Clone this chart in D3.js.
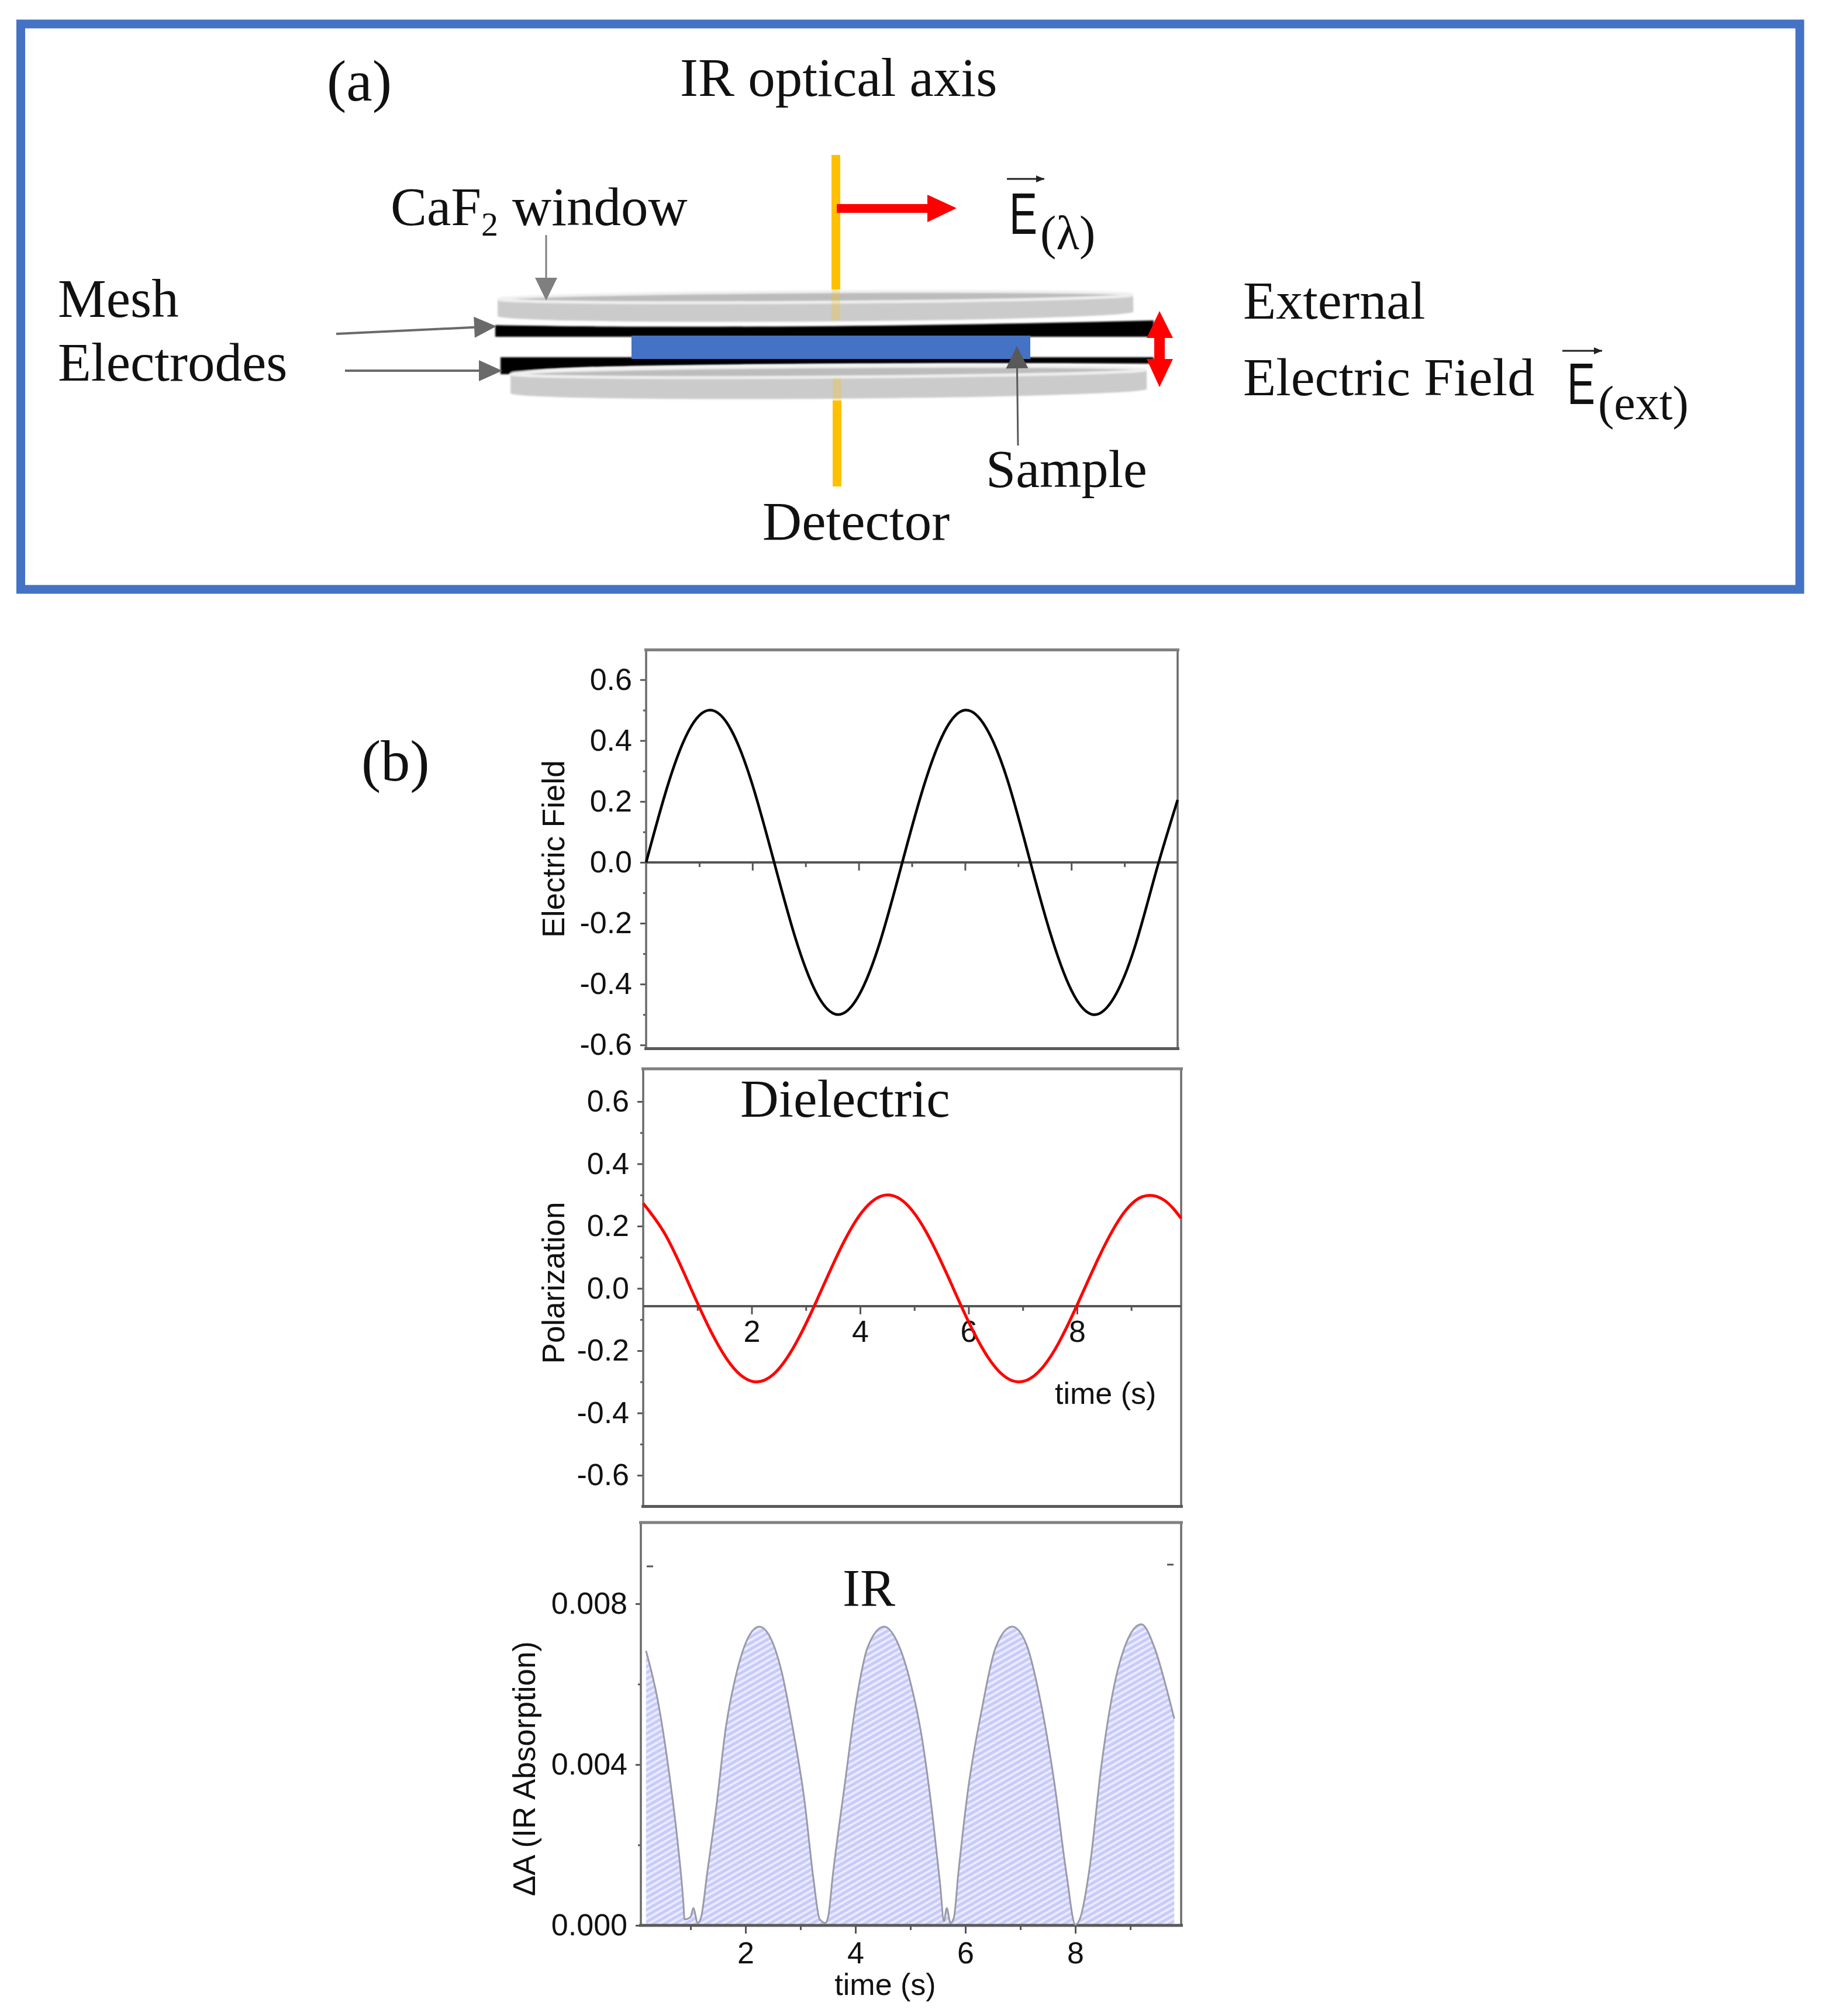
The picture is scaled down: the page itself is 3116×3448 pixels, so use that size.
<!DOCTYPE html>
<html>
<head>
<meta charset="utf-8">
<script src="https://cdn.jsdelivr.net/npm/d3@7"></script>
<style>
html, body { margin: 0; padding: 0; background: #fff; }
svg { display: block; }
text { fill: #111; }
.serif { font-family: "Liberation Serif", serif; }
.sans { font-family: "Liberation Sans", sans-serif; }
</style>
</head>
<body>
<div id="chart"></div>
<script>
// panel 1, electric field
var fieldT = [0, 0.4, 0.8, 1.2, 1.6, 2.0, 2.4, 2.8, 3.2, 3.6, 4.0, 4.4, 4.8, 5.2, 5.6, 6.0, 6.4, 6.8, 7.2, 7.6, 8.0, 8.4, 8.8, 9.2, 9.6, 10];
var fieldV = [0, 0.249, 0.432, 0.5, 0.435, 0.255, 0.006, -0.244, -0.428, -0.5, -0.438, -0.262, -0.013, 0.237, 0.425, 0.5, 0.441, 0.27, 0.02, -0.23, -0.42, -0.5, -0.445, -0.275, -0.027, 0.205];

// panel 2, polarization
var polT = [0, 0.4, 0.8, 1.2, 1.6, 2.0, 2.4, 2.8, 3.2, 3.6, 4.0, 4.4, 4.8, 5.2, 5.6, 6.0, 6.4, 6.8, 7.2, 7.6, 8.0, 8.4, 8.8, 9.2, 9.6, 9.92];
var polV = [0.273, 0.175, 0.031, -0.121, -0.241, -0.298, -0.276, -0.181, -0.039, 0.114, 0.237, 0.297, 0.279, 0.187, 0.046, -0.107, -0.232, -0.296, -0.282, -0.194, -0.054, 0.099, 0.227, 0.294, 0.284, 0.225];

// panel 3, IR absorption
var irT = [0.19, 0.40, 0.62, 0.745, 0.87, 0.89, 1.0, 1.05, 1.13, 1.19, 1.30, 1.47, 1.64, 1.85, 2.06, 2.25, 2.44, 2.65, 2.86, 3.07, 3.24, 3.35, 3.45, 3.50, 3.59, 3.80, 4.01, 4.22, 4.52, 4.78, 4.99, 5.20, 5.41, 5.54, 5.61, 5.66, 5.73, 5.79, 5.87, 6.04, 6.30, 6.55, 6.85, 7.11, 7.36, 7.62, 7.84, 8.0, 8.09, 8.26, 8.47, 8.68, 8.94, 9.20, 9.44, 9.65, 9.80];
var irV = [0.00683, 0.00562, 0.00369, 0.00232, 0.00055, 0.00015, 0.00021, 0.00043, 0.00006, 0.00019, 0.00127, 0.00296, 0.0049, 0.00635, 0.00719, 0.00743, 0.00719, 0.00635, 0.0049, 0.00313, 0.00111, 0.00015, 0.00006, 0.00019, 0.00127, 0.00345, 0.00554, 0.00691, 0.00743, 0.00699, 0.0061, 0.00474, 0.00264, 0.00103, 0.0001, 0.00043, 0.00006, 0.00019, 0.00127, 0.00329, 0.00538, 0.00691, 0.00743, 0.00699, 0.00562, 0.00353, 0.00127, 0.00002, 0.00019, 0.00143, 0.00393, 0.00578, 0.00707, 0.00749, 0.00691, 0.00594, 0.00514];

// ticks
var fieldTicks = [-0.6, -0.4, -0.2, 0.0, 0.2, 0.4, 0.6];
var fieldMinor = [-0.5, -0.3, -0.1, 0.1, 0.3, 0.5];
var irTicks = [0, 0.004, 0.008];
var irMinor = [0.002, 0.006];
var timeTicks = [2, 4, 6, 8];
var timeMinor = [1, 3, 5, 7, 9];

var svg = d3.select('#chart').append('svg').attr('width', 3116).attr('height', 3448);
var defs = svg.append('defs');

defs.append('filter').attr('id', 'soft').append('feGaussianBlur').attr('stdDeviation', 1.8);

var hatch = defs.append('pattern').attr('id', 'hatch').attr('patternUnits', 'userSpaceOnUse')
  .attr('width', 9).attr('height', 9).attr('patternTransform', 'rotate(-30)');
hatch.append('rect').attr('width', 9).attr('height', 9).attr('fill', '#c8cbfb');
hatch.append('rect').attr('width', 9).attr('height', 4).attr('fill', '#eaebfe');

function label(g, cls, s, x, y, size, anchor) {
  return g.append('text').attr('class', cls).attr('x', x).attr('y', y)
    .attr('font-size', size).attr('text-anchor', anchor || 'start').text(s);
}

// keep the plain hyphen of the original tick labels
function plainFormat(spec) {
  var f = d3.format(spec);
  return function (d) { return f(d).replace('\u2212', '-'); };
}

// E with its subscript, one text element
function vectorE(g, x, y, sub) {
  var t = g.append('text').attr('x', x).attr('y', y);
  t.append('tspan').attr('class', 'sans').attr('font-size', 100)
    .attr('textLength', 48).attr('lengthAdjust', 'spacingAndGlyphs').text('E');
  t.append('tspan').attr('class', 'serif').attr('font-size', 82).attr('dy', 26).attr('dx', 5).text(sub);
}

// --- (a) schematic ---
var a = svg.append('g');
a.append('rect').attr('x', 35.5).attr('y', 41).attr('width', 3042.5).attr('height', 967)
  .attr('fill', 'none').attr('stroke', '#4472c4').attr('stroke-width', 15);

label(a, 'serif', '(a)', 559, 172, 100);
label(a, 'serif', 'IR optical axis', 1163, 164, 93);
label(a, 'serif', 'Mesh', 99, 542, 93);
label(a, 'serif', 'Electrodes', 99, 651, 93);
label(a, 'serif', 'External', 2126, 545, 92);
label(a, 'serif', 'Electric Field', 2126, 676, 92);
label(a, 'serif', 'Sample', 1686, 833, 92);
label(a, 'serif', 'Detector', 1304, 923, 93);

var caf = label(a, 'serif', 'CaF', 668, 385, 93);
caf.append('tspan').attr('font-size', 58).attr('dy', 18).text('2');
caf.append('tspan').attr('dy', -18).attr('dx', 24).text('window');

vectorE(a, 1726, 400, '(λ)');
vectorE(a, 2680, 691, '(ext)');

// small vector arrows above the two E
[[1722, 1786, 306], [2672, 2740, 600]].forEach(function (d) {
  a.append('line').attr('x1', d[0]).attr('x2', d[1]).attr('y1', d[2]).attr('y2', d[2])
    .attr('stroke', '#222').attr('stroke-width', 3);
  a.append('path').attr('d', 'M' + d[1] + ',' + d[2] + 'l-14,-6v12z').attr('fill', '#222');
});

// electrodes and windows
var plates = a.append('g').attr('filter', 'url(#soft)');
plates.append('path').attr('d', 'M847,556C1100,561 1500,560 1973,548L1973,576L847,576Z').attr('fill', '#000');
plates.append('path').attr('d', 'M856,611L1973,611L1973,622C1600,620 1200,622 1000,628C920,631 880,635 870,640L856,640Z').attr('fill', '#000');

function disc(g, x0, x1, yTop, yBot) {
  var cx = (x0 + x1) / 2, rx = (x1 - x0) / 2;
  var d = g.append('g').attr('transform', 'rotate(-0.4 ' + cx + ' ' + yTop + ')');
  d.append('ellipse').attr('cx', cx).attr('cy', yBot).attr('rx', rx).attr('ry', 13).attr('fill', '#cbcbcb');
  d.append('rect').attr('x', x0).attr('y', yTop).attr('width', x1 - x0).attr('height', yBot - yTop).attr('fill', '#cbcbcb');
  d.append('ellipse').attr('cx', cx).attr('cy', yTop).attr('rx', rx - 2).attr('ry', 9)
    .attr('fill', '#bcbcbc').attr('stroke', '#f0f0f0').attr('stroke-width', 5);
}
disc(plates, 851, 1938, 508, 537);
disc(plates, 873, 1961, 636, 669);

// IR axis
var yellow = [[1422, 265, 15, 230, 1], [1422, 495, 15, 53, 0.25], [1424, 647, 15, 38, 0.25], [1424, 685, 15, 147, 1]];
a.selectAll('rect.ir').data(yellow).enter().append('rect').attr('class', 'ir')
  .attr('x', function (d) { return d[0]; }).attr('y', function (d) { return d[1]; })
  .attr('width', function (d) { return d[2]; }).attr('height', function (d) { return d[3]; })
  .attr('fill', '#ffc000').attr('opacity', function (d) { return d[4]; });

a.append('rect').attr('x', 1080).attr('y', 574).attr('width', 682).attr('height', 40).attr('fill', '#4472c4');

// red arrows
a.append('path').attr('d', 'M1431,349H1586V333L1636,356L1586,380V364H1431Z').attr('fill', '#f00');
a.append('path').attr('d', 'M1983,532L2006,578H1992V614H2006L1983,662L1961,614H1974V578H1961Z').attr('fill', '#f00');

// grey arrows
function pointer(x1, y1, x2, y2, col, len, half, sw) {
  var ang = Math.atan2(y2 - y1, x2 - x1);
  var bx = x2 - len * Math.cos(ang), by = y2 - len * Math.sin(ang);
  var nx = -Math.sin(ang) * half, ny = Math.cos(ang) * half;
  a.append('line').attr('x1', x1).attr('y1', y1).attr('x2', bx).attr('y2', by).attr('stroke', col).attr('stroke-width', sw);
  a.append('path').attr('d', 'M' + x2 + ',' + y2 + 'L' + (bx + nx) + ',' + (by + ny) + 'L' + (bx - nx) + ',' + (by - ny) + 'Z').attr('fill', col);
}
pointer(934, 402, 934, 514, '#7f7f7f', 39, 19, 3);
pointer(575, 571, 849, 558, '#6a6a6a', 38, 18, 4);
pointer(590, 634, 859, 634, '#6a6a6a', 40, 18, 4);
pointer(1741, 762, 1739, 592, '#595959', 38, 19, 3);

// --- (b) plots ---
label(svg, 'serif', '(b)', 618, 1335, 100);

function panel(o) {
  var g = svg.append('g');
  var x = d3.scaleLinear().domain(o.xDomain).range([o.left, o.right]);
  var y = d3.scaleLinear().domain(o.yDomain).range([o.bottom, o.top]);

  // y axis, major and minor
  var yAxis = g.append('g').attr('transform', 'translate(' + o.left + ',0)').attr('class', 'sans')
    .call(d3.axisLeft(y).tickValues(o.yTicks).tickSize(o.tick).tickPadding(14).tickFormat(plainFormat(o.yFormat)));
  yAxis.select('.domain').remove();
  yAxis.selectAll('text').attr('font-size', 52).attr('font-family', '"Liberation Sans"').attr('fill', '#111');
  yAxis.selectAll('line').attr('stroke', '#555').attr('stroke-width', 3);
  var yMinor = g.append('g').attr('transform', 'translate(' + o.left + ',0)')
    .call(d3.axisLeft(y).tickValues(o.yMinor).tickSize(5).tickFormat(''));
  yMinor.select('.domain').remove();
  yMinor.selectAll('line').attr('stroke', '#555').attr('stroke-width', 3);

  // x axis sits at o.xAt
  var xAxisY = y(o.xAt);
  var xAxis = g.append('g').attr('transform', 'translate(0,' + xAxisY + ')')
    .call(d3.axisBottom(x).tickValues(timeTicks).tickSize(14).tickPadding(o.xPad).tickFormat(o.xLabels ? d3.format('d') : ''));
  xAxis.select('.domain').remove();
  xAxis.selectAll('text').attr('font-size', 52).attr('font-family', '"Liberation Sans"').attr('fill', '#111');
  xAxis.selectAll('line').attr('stroke', '#555').attr('stroke-width', 3);
  var xMinor = g.append('g').attr('transform', 'translate(0,' + xAxisY + ')')
    .call(d3.axisBottom(x).tickValues(timeMinor).tickSize(8).tickFormat(''));
  xMinor.select('.domain').remove();
  xMinor.selectAll('line').attr('stroke', '#555').attr('stroke-width', 3);

  if (o.area) {
    g.append('path').datum(o.t).attr('fill', 'url(#hatch)')
      .attr('d', d3.area().x(function (d) { return x(d); }).y0(y(0))
        .y1(function (d, i) { return y(o.v[i]); }).curve(o.curve));
  }

  // frame
  g.append('rect').attr('x', o.left).attr('y', o.top).attr('width', o.right - o.left).attr('height', o.bottom - o.top)
    .attr('fill', 'none').attr('stroke', '#6b6b6b').attr('stroke-width', 3.5);
  g.append('line').attr('x1', o.left - 3).attr('x2', o.right + 3).attr('y1', o.top).attr('y2', o.top)
    .attr('stroke', '#808080').attr('stroke-width', 5);
  if (o.xAt !== o.yDomain[0]) {
    g.append('line').attr('x1', o.left).attr('x2', o.right).attr('y1', xAxisY).attr('y2', xAxisY)
      .attr('stroke', '#555').attr('stroke-width', 4);
  }
  g.append('line').attr('x1', o.left - 3).attr('x2', o.right + 3).attr('y1', o.bottom).attr('y2', o.bottom)
    .attr('stroke', '#5a5a5a').attr('stroke-width', 5);

  // curve
  g.append('path').datum(o.t).attr('fill', 'none').attr('stroke', o.color).attr('stroke-width', o.width)
    .attr('d', d3.line().x(function (d) { return x(d); })
      .y(function (d, i) { return y(o.v[i]); }).curve(o.curve));

  // y title
  g.append('text').attr('class', 'sans').attr('font-size', 53).attr('fill', '#333').attr('text-anchor', 'middle')
    .attr('transform', 'translate(' + o.titleX + ',' + o.titleY + ') rotate(-90)').text(o.title);
  return { x: x, y: y };
}

panel({
  left: 1105, right: 2014, top: 1111.5, bottom: 1793.5,
  xDomain: [0, 10], yDomain: [-0.612, 0.698], xAt: 0, xPad: 8, xLabels: false,
  yTicks: fieldTicks, yMinor: fieldMinor, yFormat: '.1f', tick: 10,
  t: fieldT, v: fieldV, color: '#000', width: 4.5, curve: d3.curveNatural,
  title: 'Electric Field', titleX: 965, titleY: 1452
});

panel({
  left: 1100, right: 2020, top: 1828, bottom: 2576.5,
  xDomain: [0, 9.92], yDomain: [-0.7, 0.705], xAt: -0.057, xPad: 10, xLabels: true,
  yTicks: fieldTicks, yMinor: fieldMinor, yFormat: '.1f', tick: 10,
  t: polT, v: polV, color: '#f00', width: 5, curve: d3.curveNatural,
  title: 'Polarization', titleX: 965, titleY: 2194
});
label(svg, 'sans', 'time (s)', 1804, 2401, 52);
label(svg, 'serif', 'Dielectric', 1266, 1910, 91);

panel({
  left: 1096, right: 2020, top: 2604, bottom: 3293,
  xDomain: [0.096, 9.925], yDomain: [0, 0.01002], xAt: 0, xPad: 14, xLabels: true,
  yTicks: irTicks, yMinor: irMinor, yFormat: '.3f', tick: 9,
  t: irT, v: irV, color: '#9a9aa8', width: 3, curve: d3.curveMonotoneX, area: true,
  title: 'ΔA (IR Absorption)', titleX: 915, titleY: 3025
});
label(svg, 'sans', 'time (s)', 1514, 3412, 52, 'middle');
label(svg, 'serif', 'IR', 1441, 2747, 90);

// two stray dashes in the top of the IR panel
[[1106, 2679], [1996, 2676]].forEach(function (d) {
  svg.append('line').attr('x1', d[0]).attr('x2', d[0] + 11).attr('y1', d[1]).attr('y2', d[1])
    .attr('stroke', '#555').attr('stroke-width', 3);
});
</script>
</body>
</html>
